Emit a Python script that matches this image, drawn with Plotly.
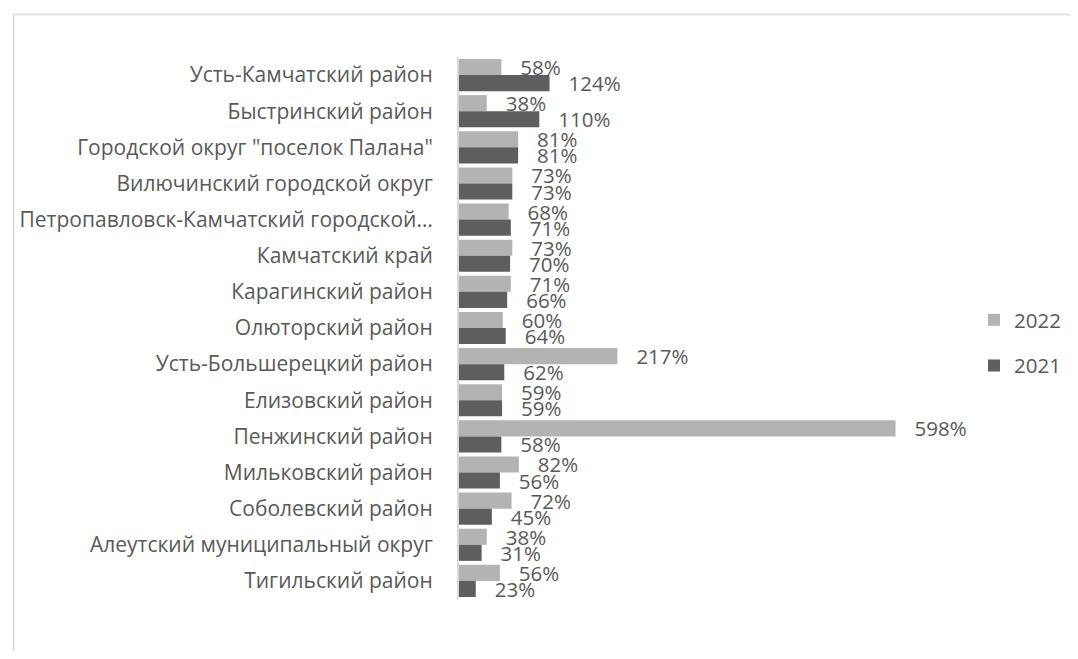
import plotly.graph_objects as go

categories = [
    "Усть-Камчатский район",
    "Быстринский район",
    "Городской округ \"поселок Палана\"",
    "Вилючинский городской округ",
    "Петропавловск-Камчатский городской…",
    "Камчатский край",
    "Карагинский район",
    "Олюторский район",
    "Усть-Большерецкий район",
    "Елизовский район",
    "Пенжинский район",
    "Мильковский район",
    "Соболевский район",
    "Алеутский муниципальный округ",
    "Тигильский район",
]
values_2022 = [58, 38, 81, 73, 68, 73, 71, 60, 217, 59, 598, 82, 72, 38, 56]
values_2021 = [124, 110, 81, 73, 71, 70, 66, 64, 62, 59, 58, 56, 45, 31, 23]

FONT = "Open Sans"
TXT = "#595959"
PAD = "\u00a0\u00a0\u00a0"
LBL = 20.5
CAT = 21

fig = go.Figure()
fig.add_trace(go.Bar(
    name="2022", y=categories, x=values_2022, orientation="h",
    marker=dict(color="#b3b3b3", line=dict(width=0)),
    text=[PAD + f"{v}%" for v in values_2022], textposition="outside",
    constraintext="none", cliponaxis=False,
    textfont=dict(family=FONT, size=LBL, color=TXT),
    legendgroup="a", hoverinfo="skip",
))
fig.add_trace(go.Bar(
    name="2021", y=categories, x=values_2021, orientation="h",
    marker=dict(color="#5e5e5e", line=dict(width=0)),
    text=[PAD + f"{v}%" for v in values_2021], textposition="outside",
    constraintext="none", cliponaxis=False,
    textfont=dict(family=FONT, size=LBL, color=TXT),
    legendgroup="b", hoverinfo="skip",
))

# figure coordinates (page is offset by the 8px body margin)
W, H = 1070, 643
L, R, T, B = 449, 963, 49, 591
pw, ph = R - L, B - T

def px(x):
    return (x - L) / pw

def py(y):
    return (B - y) / ph

fig.update_layout(
    width=W, height=H,
    margin=dict(l=L, r=W - R, t=T, b=H - B, pad=0),
    paper_bgcolor="white", plot_bgcolor="white",
    barmode="group", bargap=0.11, bargroupgap=0,
    font=dict(family=FONT, size=LBL, color=TXT),
    xaxis=dict(range=[0, 700], visible=False, fixedrange=True),
    yaxis=dict(autorange="reversed", showline=True, linecolor="#d9d9d9", linewidth=2,
               ticks="", showgrid=False, ticklabelstandoff=20,
               tickfont=dict(family=FONT, size=CAT, color=TXT)),
    legend=dict(x=px(967), xanchor="left", y=py(335), yanchor="middle",
                font=dict(family=FONT, size=LBL, color=TXT),
                tracegroupgap=16, bgcolor="rgba(0,0,0,0)"),
    shapes=[dict(type="rect", xref="paper", yref="paper",
                 x0=px(1), x1=px(1100), y0=py(700), y1=py(6.5),
                 line=dict(color="#d9d9d9", width=1.5), layer="below")],
    showlegend=True,
)

fig.write_html("out.html")
